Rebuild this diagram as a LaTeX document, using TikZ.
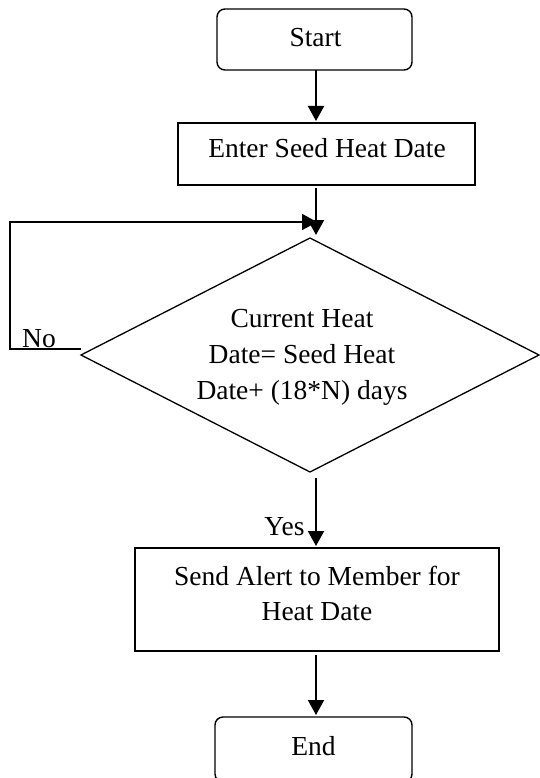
\documentclass[tikz,border=0pt]{standalone}
\usepackage{fontspec}
\setmainfont{Liberation Serif}
\usetikzlibrary{shapes.geometric,arrows.meta}
\begin{document}
\begin{tikzpicture}[x=1pt,y=-1pt]
\tikzset{
 box/.style={draw, line width=1.4pt, inner sep=0pt, outer sep=0pt},
 rbox/.style={box, rounded corners=8pt},
 decbox/.style={draw, diamond, line width=1.3pt, inner sep=0pt, outer sep=0pt},
 txt/.style={inner sep=0pt, font=\fontsize{27.5}{36}\selectfont, align=center},
 arr/.style={line width=2pt, -{Triangle[length=15pt,width=16pt]}},
}
\useasboundingbox (0,0) rectangle (540,778);
\clip (0,0) rectangle (540,778);
\coordinate (ax) at (316,0);
\coordinate (lp) at (10,222);

\node[rbox, minimum width=195pt, minimum height=61pt] (start) at (314.5,39.5) {};
\node[txt, anchor=base] (startT) at (315.5,47) {Start};
\node[box, minimum width=297pt, minimum height=62pt] (enter) at (326.5,154) {};
\node[txt, anchor=base] (enterT) at (327,158) {Enter Seed Heat Date};
\node[decbox, minimum width=458pt, minimum height=234pt] (dec) at (310,355) {};
\node[txt] (decT) at (302,357.8) {Current Heat\\Date= Seed Heat\\Date+ (18*N) days};
\node[box, minimum width=364pt, minimum height=103pt] (send) at (317,599.5) {};
\node[txt, font=\fontsize{27.5}{35}\selectfont] (sendT) at (317,593.3) {Send Alert to Member for\\Heat Date};
\node[rbox, minimum width=197pt, minimum height=65pt] (end) at (313.5,749.5) {};
\node[txt, anchor=base] (endT) at (313.5,755) {End};
\node[txt, anchor=base] (yes) at (284.5,535) {Yes};
\node[txt, anchor=base] (no) at (39,347) {No};

\draw[arr] (start.south -| ax) -- ([yshift=2pt]enter.north -| ax);
\draw[arr] ([yshift=-3pt]enter.south -| ax) -- ([yshift=3pt]dec.north -| ax);
\draw[arr] ([yshift=6pt]dec.west) -| (lp) -- ([xshift=1pt]lp -| ax);
\draw[arr] ([yshift=-6pt]dec.south -| ax) -- ([yshift=2pt]send.north -| ax);
\draw[arr] ([yshift=-4pt]send.south -| ax) -- ([yshift=2pt]end.north -| ax);
\end{tikzpicture}
\end{document}
